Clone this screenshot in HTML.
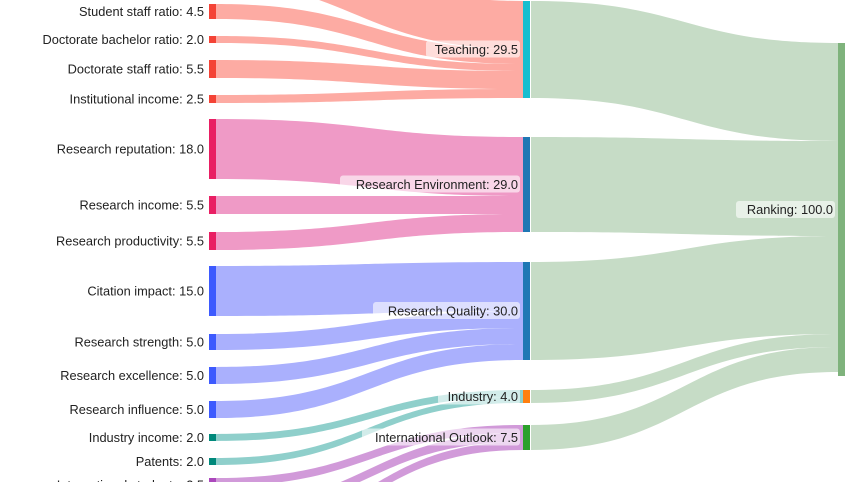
<!DOCTYPE html>
<html><head><meta charset="utf-8"><style>
html,body{margin:0;padding:0;background:#fff;width:857px;height:482px;overflow:hidden}
svg{display:block;overflow:hidden}
text{font-family:"Liberation Sans",sans-serif;font-size:12.8px;fill:#222}
</style></head><body>
<svg id="s" width="857" height="482" viewBox="0 0 857 482"></svg>
<script>
const s=document.getElementById('s');let h='';
function band(x0,a0,b0,x1,a1,b1,c){const m=(x0+x1)/2;
h+=`<path d="M${x0} ${a0}C${m} ${a0} ${m} ${a1} ${x1} ${a1}L${x1} ${b1}C${m} ${b1} ${m} ${b0} ${x0} ${b0}Z" fill="${c}"/>`;}
const L0=216,M0=523,M1=531,R0=838;
const T='#fdaba3',E='#ef9ac6',Q='#aab0fd',I='#8fcfcb',O='#d19ad9',G='#c6dcc6';
band(L0-30,-70,-21,M0,1,49,T);
band(L0,4,19,M0,49,64,T);
band(L0,36,43,M0,64,71,T);
band(L0,60,78,M0,71,89,T);
band(L0,95,103,M0,89,98,T);
band(L0,119,179,M0,137,196,E);
band(L0,196,214,M0,196,214,E);
band(L0,232,250,M0,214,232,E);
band(L0,266,316,M0,262,311,Q);
band(L0,334,350,M0,311,328,Q);
band(L0,367,384,M0,328,344,Q);
band(L0,401,418,M0,344,360,Q);
band(L0,434,441,M0,390,397,I);
band(L0,458,465,M0,397,403,I);
band(L0,478,486,M0,425,433,O);
band(L0,505,513,M0,433,442,O);
band(L0,532,540,M0,442,450,O);
band(M1,1,98,R0,43,141,G);
band(M1,137,232,R0,141,236,G);
band(M1,262,360,R0,236,334,G);
band(M1,390,403,R0,334,347,G);
band(M1,425,450,R0,347,372,G);
function node(x,y0,y1,c){h+=`<rect x="${x}" y="${y0}" width="7" height="${y1-y0}" fill="${c}"/>`;}
const lc='#f44336',ec='#e91e63',qc='#3d5afe',ic='#00897b',oc='#ab47bc';
[[4,19],[36,43],[60,78],[95,103]].forEach(v=>node(209,v[0],v[1],lc));
[[119,179],[196,214],[232,250]].forEach(v=>node(209,v[0],v[1],ec));
[[266,316],[334,350],[367,384],[401,418]].forEach(v=>node(209,v[0],v[1],qc));
[[434,441],[458,465]].forEach(v=>node(209,v[0],v[1],ic));
node(209,478,486,oc);
node(M0,1,98,'#17becf');node(M0,137,232,'#1f77b4');node(M0,262,360,'#1f77b4');
node(M0,390,403,'#ff7f0e');node(M0,425,450,'#2ca02c');
node(R0,43,376,'#7fb37c');
const lab=[['Student staff ratio: 4.5',11.5],['Doctorate bachelor ratio: 2.0',39.5],['Doctorate staff ratio: 5.5',69],['Institutional income: 2.5',99],
['Research reputation: 18.0',149],['Research income: 5.5',205],['Research productivity: 5.5',241],['Citation impact: 15.0',291],
['Research strength: 5.0',342],['Research excellence: 5.0',375.5],['Research influence: 5.0',409.5],['Industry income: 2.0',437.5],['Patents: 2.0',461.5],['International students: 2.5',485]];
lab.forEach(l=>h+=`<text x="204" y="${l[1]+4.5}" text-anchor="end">${l[0]}</text>`);
function ml(t,y,w){h+=`<rect x="${518-w-4}" y="${y-9}" width="${w+6}" height="17" rx="3" fill="rgba(255,255,255,0.6)"/><text x="518" y="${y+4.5}" text-anchor="end">${t}</text>`;}
ml('Teaching: 29.5',49.5,88);ml('Research Environment: 29.0',184.5,174);ml('Research Quality: 30.0',311,141);
ml('Industry: 4.0',396.5,76);ml('International Outlook: 7.5',437.5,152);
h+=`<rect x="736" y="201" width="99" height="17" rx="3" fill="rgba(255,255,255,0.6)"/><text x="833" y="214" text-anchor="end">Ranking: 100.0</text>`;
s.innerHTML=h;
</script>
</body></html>
